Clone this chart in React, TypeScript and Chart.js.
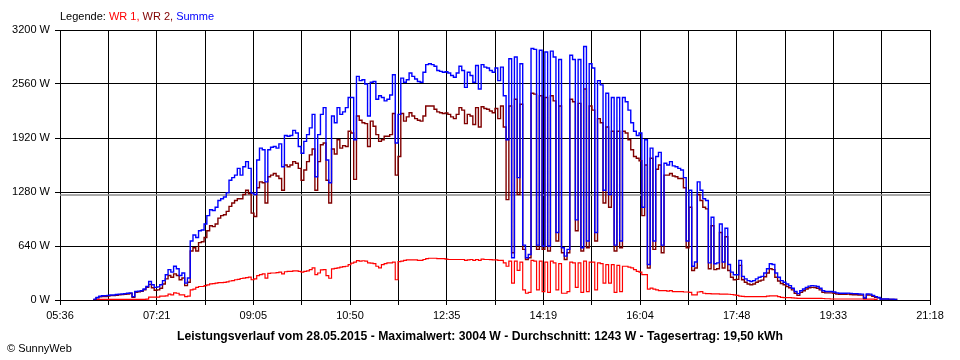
import { useEffect, useRef } from "react";
import { Chart, registerables } from "chart.js";

Chart.register(...registerables);

// ---- axis definitions ----
const X_LABELS = ["05:36", "07:21", "09:05", "10:50", "12:35", "14:19", "16:04", "17:48", "19:33", "21:18"];
const X_MIN_MINUTES = 336; // 05:36
const X_MAX_MINUTES = 1278; // 21:18
const Y_MAX = 3200;
const Y_STEP = 640;
const AVERAGE_W = 1243;

// samples every 3 minutes starting 06:12
const SAMPLE_START = 372;
const SAMPLE_STEP = 3;

// ---- series (W) ----
const SUMME = [
  10, 30, 45, 50, 50, 55, 60, 60, 65, 70,
  72, 75, 80, 85, 40, 100, 105, 110, 130, 160,
  220, 180, 150, 155, 180, 230, 300, 360, 330, 400,
  370, 290, 320, 200, 260, 700, 770, 740, 820, 830,
  900, 1000, 1070, 1060, 1100, 1180, 1200, 1220, 1270, 1420,
  1450, 1480, 1560, 1480, 1580, 1640, 1560, 1267, 1250, 1660,
  1800, 1780, 1400, 1780, 1810, 1820, 1800, 1850, 1580, 1950,
  1940, 1950, 2010, 1980, 1820, 1740, 1880, 1960, 2040, 2200,
  1460, 1960, 2200, 2280, 1660, 1390, 2180, 2100, 2280, 2200,
  2230, 2280, 2400, 2400, 1900, 2650, 2600, 2610, 2560, 2180,
  2580, 2590, 2380, 2420, 2400, 2360, 2380, 2430, 2670, 1860,
  2200, 2630, 2580, 2610, 2690, 2650, 2620, 2590, 2580, 2700,
  2790, 2800, 2790, 2770, 2720, 2710, 2700, 2705, 2690, 2660,
  2640, 2690, 2770, 2720, 2520, 2700, 2660, 2580, 2780, 2500,
  2790, 2760, 2750, 2720, 2700, 2750, 2600, 2760, 2420, 1900,
  2860, 500, 2880, 1450, 2800, 650, 500, 540, 2980, 2970,
  650, 2960, 640, 2940, 640, 2950, 2880, 800, 2850, 620,
  520, 600, 2900, 2850, 950, 2850, 620, 3004, 700, 2800,
  2750, 800, 2600, 2550, 1300, 2450, 1250, 2400, 650, 2400,
  700, 2400, 2350, 2250, 2100, 2000, 1950, 1980, 1100, 1900,
  420, 1800, 700, 1700, 1750, 650, 1620, 1600, 1640, 1590,
  1580, 1560, 1540, 1450, 700, 1300, 400, 450, 1400, 1300,
  1200, 1180, 440, 980, 430, 440, 900, 450, 850, 420,
  330, 300, 300, 470, 280, 250, 230, 220, 230, 250,
  270, 280, 320, 370, 430, 420, 320, 270, 230, 210,
  190, 170, 140, 100, 75, 110, 130, 150, 165, 170,
  168, 160, 140, 110, 100, 100, 100, 95, 85, 80,
  80, 80, 82, 78, 75, 75, 72, 70, 25, 72,
  70, 55, 40, 30, 12, 12, 12, 10, 10, 8,
  5,
];

const WR2 = [
  5, 25, 37, 42, 42, 47, 52, 52, 57, 62,
  64, 67, 72, 77, 32, 92, 97, 102, 122, 150,
  185, 145, 115, 120, 140, 190, 250, 290, 270, 310,
  290, 240, 260, 170, 210, 580, 620, 580, 680, 690,
  740, 820, 880, 870, 900, 970, 1000, 1010, 1050, 1110,
  1150, 1180, 1200, 1200, 1250, 1300, 1260, 1030, 990, 1330,
  1400, 1390, 1150, 1460, 1480, 1500, 1470, 1440, 1300, 1600,
  1580, 1600, 1640, 1620, 1560, 1420, 1540, 1640, 1720, 1790,
  1300, 1640, 1840, 1860, 1420, 1150, 1790, 1730, 1900, 1800,
  1830, 1820, 2000, 1980, 1430, 2180, 2130, 2100, 2090, 1820,
  2120, 2060, 1960, 1880, 1900, 1940, 1940, 1960, 2210, 1480,
  1700, 2210, 2120, 2170, 2220, 2180, 2150, 2130, 2120, 2180,
  2300, 2300, 2300, 2260, 2230, 2220, 2210, 2218, 2200, 2170,
  2150, 2200, 2280, 2250, 2090, 2200, 2180, 2080, 2280, 2050,
  2290, 2270, 2260, 2240, 2220, 2270, 2150, 2300, 2050, 1190,
  2300, 560, 2380, 1250, 2320, 600, 480, 500, 2450, 2440,
  600, 2420, 600, 2400, 580, 2420, 2360, 700, 2300, 560,
  480, 560, 2380, 2350, 820, 2330, 580, 2500, 620, 2300,
  2250, 700, 2150, 2100, 1150, 2050, 1100, 2000, 580, 2000,
  620, 2000, 1980, 1900, 1780, 1700, 1680, 1650, 1000, 1600,
  380, 1680, 600, 1550, 1600, 560, 1480, 1480, 1500, 1470,
  1460, 1440, 1440, 1330, 620, 1100, 350, 380, 1250, 1180,
  1100, 1080, 370, 880, 360, 370, 800, 380, 750, 350,
  270, 240, 245, 410, 240, 210, 190, 180, 190, 210,
  225, 235, 275, 320, 370, 360, 270, 225, 195, 180,
  160, 145, 120, 80, 55, 90, 110, 130, 145, 150,
  148, 140, 120, 90, 85, 85, 85, 80, 72, 68,
  68, 68, 70, 66, 63, 63, 60, 58, 20, 60,
  58, 45, 32, 25, 10, 10, 10, 8, 8, 6,
  3,
];

const WR1 = [
  5, 5, 8, 8, 8, 8, 8, 8, 8, 8,
  8, 8, 8, 8, 8, 8, 8, 8, 8, 10,
  35, 35, 35, 35, 45, 45, 50, 70, 60, 85,
  80, 60, 60, 40, 45, 120, 130, 150, 160, 160,
  170, 180, 190, 195, 200, 205, 205, 210, 215, 225,
  230, 240, 245, 255, 260, 265, 270, 240, 250, 290,
  300, 310, 260, 315, 320, 320, 325, 330, 310, 335,
  340, 340, 345, 345, 340, 330, 340, 345, 360, 380,
  300, 320, 356, 360, 290, 258, 370, 376, 380, 390,
  396, 400, 420, 436, 450, 467, 460, 465, 460, 440,
  436, 430, 400, 380, 420, 430, 440, 440, 450, 240,
  455, 460, 470, 475, 475, 475, 475, 470, 470, 480,
  490, 495, 495, 495, 490, 490, 490, 485, 480, 480,
  480, 480, 480, 480, 470, 475, 480, 470, 480, 470,
  485, 480, 480, 478, 476, 476, 470, 470, 440, 400,
  460, 200, 460, 350, 450, 120, 80, 90, 470, 460,
  120, 460, 100, 450, 90, 460, 440, 120, 430, 80,
  80, 100, 450, 440, 150, 440, 90, 460, 100, 450,
  450, 120, 440, 430, 200, 420, 200, 420, 90, 410,
  100, 400, 400, 390, 380, 360, 340, 330, 300, 300,
  130, 140, 130, 120, 110, 110, 110, 105, 110, 100,
  100, 100, 100, 95, 95, 90, 60, 60, 95, 99,
  80, 75, 75, 72, 72, 72, 70, 70, 70, 68,
  65, 60, 55, 45, 42, 40, 40, 40, 40, 40,
  40, 40, 40, 45, 50, 50, 50, 40, 30, 28,
  28, 28, 25, 22, 20, 20, 20, 20, 20, 20,
  20, 20, 20, 18, 15, 15, 12, 12, 12, 12,
  12, 12, 12, 12, 12, 12, 12, 12, 10, 10,
  10, 10, 8, 5, null, null, null, null, null, null,
  null,
];

const SERIES = [
  { label: "WR 1", color: "#ff0000", data: WR1, width: 1.2 },
  { label: "WR 2", color: "#800000", data: WR2, width: 1.4 },
  { label: "Summe", color: "#0000ff", data: SUMME, width: 1.4 },
];

const LEGEND_TITLE = "Legende: ";
const FOOTER = "Leistungsverlauf vom 28.05.2015 - Maximalwert: 3004 W - Durchschnitt: 1243 W - Tagesertrag: 19,50 kWh";
const COPYRIGHT = "\u00A9 SunnyWeb";
const FONT_FAMILY = '"Liberation Sans", Arial, sans-serif';

const toPoints = (arr: (number | null)[]) =>
  arr.map((v, i) => ({ x: SAMPLE_START + i * SAMPLE_STEP, y: v }));

const textPlugin = {
  id: "sunnyText",
  beforeDraw(chart: any) {
    const ctx = chart.ctx;
    ctx.save();
    ctx.fillStyle = "#ffffff";
    ctx.fillRect(0, 0, chart.width, chart.height);
    ctx.restore();
  },
  afterDraw(chart: any) {
    const ctx = chart.ctx;
    const area = chart.chartArea;
    ctx.save();
    ctx.textBaseline = "middle";
    ctx.font = `11px ${FONT_FAMILY}`;
    let x = area.left;
    const y = 16.5;
    ctx.fillStyle = "#000000";
    ctx.textAlign = "left";
    ctx.fillText(LEGEND_TITLE, x, y);
    x += ctx.measureText(LEGEND_TITLE).width;
    SERIES.forEach((s, i) => {
      const t = s.label + (i < SERIES.length - 1 ? ", " : "");
      ctx.fillStyle = s.color;
      ctx.fillText(t, x, y);
      x += ctx.measureText(t).width;
    });
    ctx.fillStyle = "#000000";
    ctx.font = `bold 12.2px ${FONT_FAMILY}`;
    ctx.textAlign = "center";
    ctx.fillText(FOOTER, 480, 336.5);
    ctx.font = `11px ${FONT_FAMILY}`;
    ctx.textAlign = "left";
    ctx.fillText(COPYRIGHT, 7, 349);
    ctx.restore();
  },
};

export default function App() {
  const ref = useRef<HTMLCanvasElement | null>(null);
  useEffect(() => {
    document.body.style.margin = "0";
    if (!ref.current) return;
    const gridCount = (X_LABELS.length - 1) * 2;
    const datasets: any[] = [
      {
        label: "Durchschnitt",
        data: [
          { x: X_MIN_MINUTES, y: AVERAGE_W },
          { x: X_MAX_MINUTES, y: AVERAGE_W },
        ],
        borderColor: "#8c8c8c",
        borderWidth: 1.5,
        pointRadius: 0,
        order: 10,
      },
      ...SERIES.map((s, i) => ({
        label: s.label,
        data: toPoints(s.data),
        borderColor: s.color,
        borderWidth: s.width,
        pointRadius: 0,
        stepped: true,
        spanGaps: false,
        order: 3 - i,
      })),
    ];
    const chart = new Chart(ref.current, {
      type: "line",
      data: { datasets },
      plugins: [textPlugin],
      options: {
        animation: false,
        responsive: false,
        devicePixelRatio: 1,
        font: { family: FONT_FAMILY, size: 11 },
        layout: { padding: { top: 30, right: 30, left: 0, bottom: 0 } },
        plugins: { legend: { display: false }, tooltip: { enabled: false }, title: { display: false } },
        scales: {
          x: {
            type: "linear",
            min: X_MIN_MINUTES,
            max: X_MAX_MINUTES,
            afterBuildTicks: (axis: any) => {
              axis.ticks = Array.from({ length: gridCount + 1 }, (_, k) => ({
                value: X_MIN_MINUTES + (k * (X_MAX_MINUTES - X_MIN_MINUTES)) / gridCount,
              }));
            },
            afterFit: (scale: any) => {
              scale.height = 60;
            },
            grid: { color: "#000000", lineWidth: 1, tickLength: 5, drawTicks: true },
            border: { display: true, color: "#000000", width: 1 },
            ticks: {
              autoSkip: false,
              maxRotation: 0,
              minRotation: 0,
              padding: 4,
              color: "#000000",
              font: { family: FONT_FAMILY, size: 11 },
              callback: (_v: any, idx: number) => (idx % 2 === 0 ? X_LABELS[idx / 2] : ""),
            },
          },
          y: {
            min: 0,
            max: Y_MAX,
            afterFit: (scale: any) => {
              scale.width = 60;
            },
            grid: { color: "#000000", lineWidth: 1, tickLength: 5, drawTicks: true },
            border: { display: true, color: "#000000", width: 1 },
            ticks: {
              stepSize: Y_STEP,
              padding: 5,
              color: "#000000",
              font: { family: FONT_FAMILY, size: 11 },
              callback: (v: any) => `${v} W`,
            },
          },
        },
      } as any,
    });
    return () => chart.destroy();
  }, []);
  return (
    <div style={{ width: 960, height: 360 }}>
      <canvas ref={ref} width={960} height={360} style={{ display: "block" }} />
    </div>
  );
}
